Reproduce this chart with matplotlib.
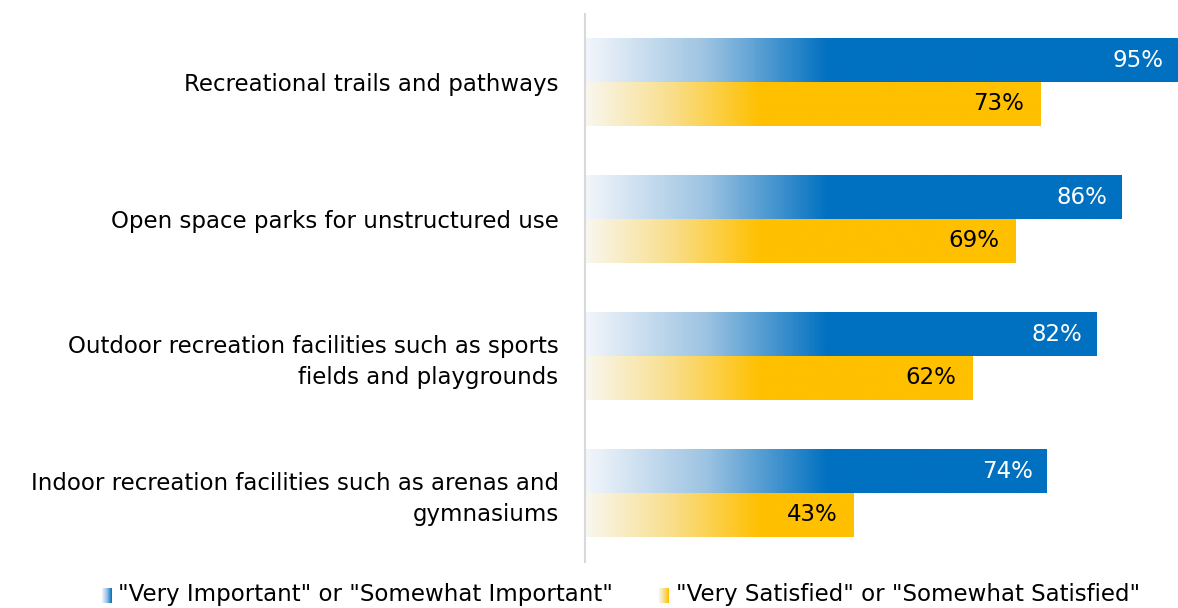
import numpy as np
import matplotlib
matplotlib.use("Agg")
import matplotlib.pyplot as plt
from matplotlib.colors import LinearSegmentedColormap

categories = ["Recreational trails and pathways",
              "Open space parks for unstructured use",
              "Outdoor recreation facilities such as sports\nfields and playgrounds",
              "Indoor recreation facilities such as arenas and\ngymnasiums"]
important = [95, 86, 82, 74]
satisfied = [73, 69, 62, 43]
series_names = ['"Very Important" or "Somewhat Important"',
                '"Very Satisfied" or "Somewhat Satisfied"']

BLUE = "#0070C0"
YELLOW = "#FFC000"
blue_cmap = LinearSegmentedColormap.from_list("b", ["#F3F6FB", "#9CC3E2", BLUE])
yel_cmap = LinearSegmentedColormap.from_list("y", ["#F8F7F0", "#F9DE8A", YELLOW])

FS = 16.5
plt.rcParams['font.family'] = ['DejaVu Sans']
fig = plt.figure(figsize=(11.78, 6.08), dpi=100)
ax = fig.add_axes([585/1178, 1-561.5/608, 1-585/1178, (561.5-13.5)/608])

h = 0.32
xmax = 95
grad = np.linspace(0, 1, 400).reshape(1, -1)

def grad_bar(x_end, yc, cmap, fade):
    y0, y1 = yc - h/2, yc + h/2
    vals = np.clip(np.linspace(0, x_end, 600) / fade, 0, 1).reshape(1, -1)
    ax.imshow(vals, cmap=cmap, vmin=0, vmax=1, aspect='auto',
              extent=[0, x_end, y1, y0], interpolation='bilinear', zorder=2)

for i, (a, b) in enumerate(zip(important, satisfied)):
    grad_bar(a, i - h/2, blue_cmap, 39)
    grad_bar(b, i + h/2, yel_cmap, 28)
    ax.text(a - 2.3, i - h/2, f"{a}%", ha='right', va='center', color='white', fontsize=FS)
    ax.text(b - 2.6, i + h/2, f"{b}%", ha='right', va='center', color='black', fontsize=FS)

ax.set_xlim(0, xmax)
ax.set_ylim(3.5, -0.5)
ax.set_yticks(range(len(categories)))
ax.set_yticklabels(categories, fontsize=FS, linespacing=1.4)
ax.tick_params(axis='y', length=0, pad=19)
ax.set_xticks([])
for s in ['top', 'right', 'bottom']:
    ax.spines[s].set_visible(False)
ax.spines['left'].set_color('#D9D9D9')
ax.spines['left'].set_linewidth(1.5)

def legend_square(x_px, cmap):
    lax = fig.add_axes([x_px/1178, 1-603/608, 10/1178, 15/608])
    lax.imshow(grad, cmap=cmap, aspect='auto', extent=[0, 1, 0, 1])
    lax.axis('off')

legend_square(102, blue_cmap)
fig.text(118/1178, 1-595/608, series_names[0], fontsize=FS, va='center', ha='left')
legend_square(659, yel_cmap)
fig.text(676/1178, 1-595/608, series_names[1], fontsize=FS, va='center', ha='left')

fig.savefig("out.png", dpi=100)
